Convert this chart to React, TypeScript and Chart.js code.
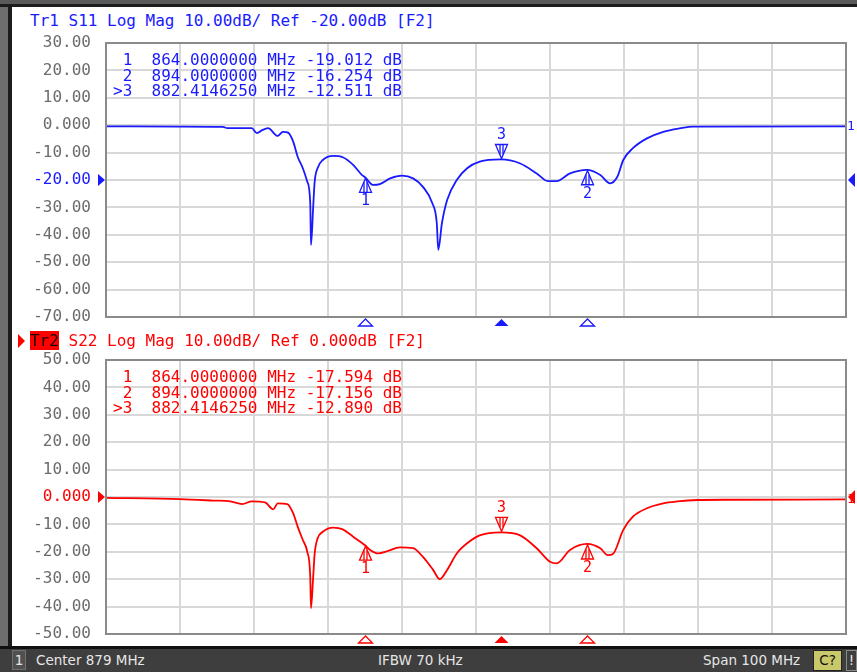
import React, { useEffect, useRef } from "react";
import { Chart, registerables } from "chart.js";

Chart.register(...registerables);

// ---- data ----
const FREQ_START = 829; // MHz (center 879, span 100)
const FREQ_STOP = 929;
const FREQ_STEP = 10;

// S11 trace: [frequency MHz, dB]
const s11Points: [number, number][] = [
  [829.0, -0.4], [839.0, -0.5], [844.8, -0.6], [845.4, -1.1], [848.7, -1.1],
  [849.4, -2.9], [850.1, -1.8], [850.9, -1.1], [852.2, -3.9], [852.9, -2.4],
  [853.6, -2.7], [854.3, -6.0], [854.9, -11.5], [855.6, -15.7], [856.2, -20.6],
  [856.6, -28.4], [856.7, -43.7], [857.0, -29.7], [857.2, -20.6], [857.6, -15.6],
  [858.3, -12.7], [859.7, -11.2], [861.0, -11.7], [862.4, -14.5], [863.6, -18.2],
  [864.0, -19.0], [865.1, -21.8], [866.0, -21.5], [867.4, -19.4], [869.0, -18.4],
  [870.5, -19.4], [871.8, -22.4], [873.1, -28.5], [873.7, -35.7], [873.9, -45.5],
  [874.4, -35.7], [875.1, -27.3], [876.4, -20.0], [877.8, -15.7], [879.5, -13.3],
  [882.4, -12.5], [884.9, -13.9], [887.2, -17.6], [888.7, -20.4], [889.9, -20.4],
  [891.7, -17.6], [894.0, -16.3], [895.8, -18.2], [897.1, -21.2], [898.1, -18.8],
  [898.9, -12.7], [900.2, -8.4], [902.1, -4.8], [904.3, -2.4], [906.6, -1.1],
  [908.3, -0.5], [929.0, -0.4],
];

// S22 trace: [frequency MHz, dB]
const s22Points: [number, number][] = [
  [829.0, -0.3], [839.0, -0.8], [843.5, -1.3], [845.8, -1.6], [847.4, -2.6],
  [848.7, -1.6], [850.5, -2.0], [851.6, -4.5], [852.2, -2.3], [853.5, -2.6],
  [854.3, -6.0], [854.9, -10.8], [855.6, -15.7], [856.2, -20.0], [856.6, -29.1],
  [856.7, -40.6], [857.0, -29.1], [857.2, -20.6], [857.6, -15.1], [858.3, -12.7],
  [859.7, -11.2], [861.0, -11.8], [862.4, -14.5], [864.0, -17.6], [864.7, -19.3],
  [865.8, -20.6], [867.1, -19.7], [868.7, -18.4], [870.5, -18.7], [871.8, -21.8],
  [873.2, -26.6], [874.1, -30.0], [875.1, -26.6], [876.4, -20.6], [877.8, -16.9],
  [879.5, -14.0], [882.4, -12.9], [884.9, -13.9], [887.2, -18.7], [889.0, -23.6],
  [889.9, -24.2], [891.7, -19.3], [894.0, -17.1], [895.8, -18.7], [896.8, -21.2],
  [897.5, -20.8], [898.9, -12.0], [900.2, -7.2], [902.1, -4.1], [904.3, -2.3],
  [906.2, -1.6], [908.9, -1.1], [913.3, -1.0], [929.0, -0.9],
];

const markerLabels = ["1", "2", "3"];
const markerFreqs = [864.0, 894.0, 882.414625];
const markerAbove = [false, false, true];
const activeMarker = 2;
const s11MarkerDb = [-19.012, -16.254, -12.511];
const s22MarkerDb = [-17.594, -17.156, -12.89];

const s11YRange = [-70, 30];
const s22YRange = [-50, 50];
const s11Ref = -20;
const s22Ref = 0;
const DB_PER_DIV = 10;

const BLUE = "#1a1aff";
const RED = "#ff0000";
const MONO = '"DejaVu Sans Mono", monospace';

type TraceCfg = {
  points: [number, number][];
  markerDb: number[];
  yRange: number[];
  ref: number;
  color: string;
};

function fmtTick(v: number) {
  return v === 0 ? "0.000" : v.toFixed(2);
}

function makePlugin(cfg: TraceCfg) {
  return {
    id: "vnaDecor",
    afterDatasetsDraw(chart: any) {
      const { ctx, chartArea: a, scales } = chart;
      const xs = scales.x;
      const ys = scales.y;
      ctx.save();
      // plot frame
      ctx.strokeStyle = "#8a8a8a";
      ctx.lineWidth = 2;
      ctx.strokeRect(a.left, a.top, a.right - a.left, a.bottom - a.top);

      ctx.strokeStyle = cfg.color;
      ctx.fillStyle = cfg.color;
      ctx.lineWidth = 1.3;
      ctx.textAlign = "center";
      ctx.textBaseline = "middle";
      ctx.font = `15px ${MONO}`;
      markerFreqs.forEach((f, i) => {
        const px = Math.round(xs.getPixelForValue(f)) + 0.5;
        const py = ys.getPixelForValue(cfg.markerDb[i]);
        const dir = markerAbove[i] ? -1 : 1;
        const tip = py + dir * 1;
        const base = py + dir * 15;
        ctx.beginPath();
        ctx.moveTo(px, tip);
        ctx.lineTo(px - 6, base);
        ctx.lineTo(px + 6, base);
        ctx.closePath();
        ctx.stroke();
        ctx.beginPath();
        ctx.moveTo(px - 1.5, tip + dir * 4);
        ctx.lineTo(px - 1.5, base);
        ctx.moveTo(px + 1.5, tip + dir * 4);
        ctx.lineTo(px + 1.5, base);
        ctx.stroke();
        ctx.fillText(markerLabels[i], px, py + dir * 24);

        // marker position on the frequency axis
        const by = a.bottom + 2;
        ctx.beginPath();
        ctx.moveTo(px, by);
        ctx.lineTo(px - 7, by + 7);
        ctx.lineTo(px + 7, by + 7);
        ctx.closePath();
        if (i === activeMarker) ctx.fill();
        else ctx.stroke();
      });

      // reference level arrows
      const ry = ys.getPixelForValue(cfg.ref);
      ctx.beginPath();
      ctx.moveTo(a.left - 8, ry - 6);
      ctx.lineTo(a.left - 1, ry);
      ctx.lineTo(a.left - 8, ry + 6);
      ctx.closePath();
      ctx.fill();
      ctx.beginPath();
      ctx.moveTo(a.right + 9, ry - 7);
      ctx.lineTo(a.right + 2, ry);
      ctx.lineTo(a.right + 9, ry + 7);
      ctx.closePath();
      ctx.fill();

      // trace number at the right end
      const last = cfg.points[cfg.points.length - 1];
      ctx.font = `13px ${MONO}`;
      ctx.textAlign = "left";
      ctx.fillText("1", a.right + 1, ys.getPixelForValue(last[1]));
      ctx.restore();
    },
  };
}

function TraceChart({ cfg, top }: { cfg: TraceCfg; top: number }) {
  const ref = useRef<HTMLCanvasElement | null>(null);
  useEffect(() => {
    if (!ref.current) return;
    const chart = new Chart(ref.current, {
      type: "line",
      data: {
        datasets: [
          {
            data: cfg.points.map(([x, y]) => ({ x, y })),
            borderColor: cfg.color,
            borderWidth: 1.8,
            pointRadius: 0,
            cubicInterpolationMode: "monotone",
            fill: false,
          },
        ],
      },
      options: {
        animation: false,
        responsive: false,
        events: [],
        layout: { padding: { top: 13, bottom: 13, left: 0, right: 11 } },
        plugins: { legend: { display: false }, tooltip: { enabled: false } },
        scales: {
          x: {
            type: "linear",
            min: FREQ_START,
            max: FREQ_STOP,
            ticks: { display: false, stepSize: FREQ_STEP },
            grid: { color: "#d8d8d8", lineWidth: 2, drawTicks: false },
            border: { display: false },
            afterFit: (s: any) => {
              s.height = 0;
              s.paddingLeft = 0;
              s.paddingRight = 0;
            },
          },
          y: {
            type: "linear",
            min: cfg.yRange[0],
            max: cfg.yRange[1],
            afterFit: (s: any) => {
              s.width = 106;
              s.paddingTop = 0;
              s.paddingBottom = 0;
            },
            ticks: {
              stepSize: DB_PER_DIV,
              padding: 15,
              callback: (v: any) => fmtTick(Number(v)),
              color: (c: any) => (c.tick && c.tick.value === cfg.ref ? cfg.color : "#6c6c6c"),
              font: { family: "DejaVu Sans Mono", size: 16 },
            },
            grid: { color: "#d8d8d8", lineWidth: 2, drawTicks: false },
            border: { display: false },
          },
        },
      } as any,
      plugins: [makePlugin(cfg)],
    });
    return () => chart.destroy();
  }, [cfg]);
  return (
    <canvas
      ref={ref}
      width={857}
      height={300}
      style={{ position: "absolute", left: 0, top, width: 857, height: 300 }}
    />
  );
}

const s11Cfg: TraceCfg = { points: s11Points, markerDb: s11MarkerDb, yRange: s11YRange, ref: s11Ref, color: BLUE };
const s22Cfg: TraceCfg = { points: s22Points, markerDb: s22MarkerDb, yRange: s22YRange, ref: s22Ref, color: RED };

function markerRows(dbs: number[]) {
  return markerFreqs
    .map((f, i) => `${i === activeMarker ? ">" : " "}${markerLabels[i]}  ${f.toFixed(7)} MHz ${dbs[i].toFixed(3)} dB`)
    .join("\n");
}

const statusFont = '13.5px "DejaVu Sans", sans-serif';

export default function App() {
  return (
    <div
      style={{
        position: "fixed",
        left: 0,
        top: 0,
        width: 857,
        height: 672,
        overflow: "hidden",
        background: "linear-gradient(to right, #6e6e6e 0px, #6e6e6e 8px, #1c1c1c 8px, #1c1c1c 12px, #3c3c3c 12px)",
      }}
    >
      {/* top frame */}
      <div style={{ position: "absolute", left: 0, top: 0, width: 857, height: 7, background: "linear-gradient(#5a5a5a 0px, #5a5a5a 4px, #1c1c1c 4px)" }} />
      {/* white panel */}
      <div style={{ position: "absolute", left: 12, top: 7, width: 845, height: 639, background: "#ffffff" }} />
      {/* black line above status bar */}
      <div style={{ position: "absolute", left: 0, top: 646, width: 857, height: 3, background: "#111" }} />

      <TraceChart cfg={s11Cfg} top={30} />
      <TraceChart cfg={s22Cfg} top={347} />

      {/* titles */}
      <div style={{ position: "absolute", left: 30, top: 12, font: `16px ${MONO}`, lineHeight: "18px", color: BLUE, whiteSpace: "pre" }}>
        Tr1 S11 Log Mag 10.00dB/ Ref -20.00dB [F2]
      </div>
      <div style={{ position: "absolute", left: 18, top: 334, width: 0, height: 0, borderTop: "7px solid transparent", borderBottom: "7px solid transparent", borderLeft: `7px solid ${RED}` }} />
      <div style={{ position: "absolute", left: 30, top: 332, font: `16px ${MONO}`, lineHeight: "18px", color: RED, whiteSpace: "pre" }}>
        <span style={{ background: RED, color: "#1a0000" }}>Tr2</span> S22 Log Mag 10.00dB/ Ref 0.000dB [F2]
      </div>

      {/* marker tables */}
      <div style={{ position: "absolute", left: 113, top: 52, font: `16px ${MONO}`, lineHeight: "15.7px", color: BLUE, whiteSpace: "pre" }}>
        {markerRows(s11MarkerDb)}
      </div>
      <div style={{ position: "absolute", left: 113, top: 369, font: `16px ${MONO}`, lineHeight: "15.7px", color: RED, whiteSpace: "pre" }}>
        {markerRows(s22MarkerDb)}
      </div>

      {/* status bar */}
      <div style={{ position: "absolute", left: 0, top: 649, width: 857, height: 23, background: "#3e3e3e", color: "#e6e6e6", font: statusFont }}>
        <div style={{ position: "absolute", left: 12, top: 1, width: 14, height: 20, background: "#505050", border: "1px solid #707070", boxSizing: "border-box", textAlign: "center", lineHeight: "18px" }}>1</div>
        <div style={{ position: "absolute", left: 36, top: 0, lineHeight: "23px", whiteSpace: "pre" }}>Center 879 MHz</div>
        <div style={{ position: "absolute", left: 378, top: 0, lineHeight: "23px", whiteSpace: "pre" }}>IFBW 70 kHz</div>
        <div style={{ position: "absolute", left: 703, top: 0, lineHeight: "23px", whiteSpace: "pre" }}>Span 100 MHz</div>
        <div style={{ position: "absolute", left: 813, top: 1, width: 29, height: 21, background: "#c9c86a", color: "#111", border: "1px solid #222", boxSizing: "border-box", textAlign: "center", lineHeight: "19px" }}>C?</div>
        <div style={{ position: "absolute", left: 846, top: 1, width: 11, height: 21, border: "1px solid #8a8a8a", boxSizing: "border-box", textAlign: "center", lineHeight: "19px" }}>!</div>
      </div>
    </div>
  );
}
